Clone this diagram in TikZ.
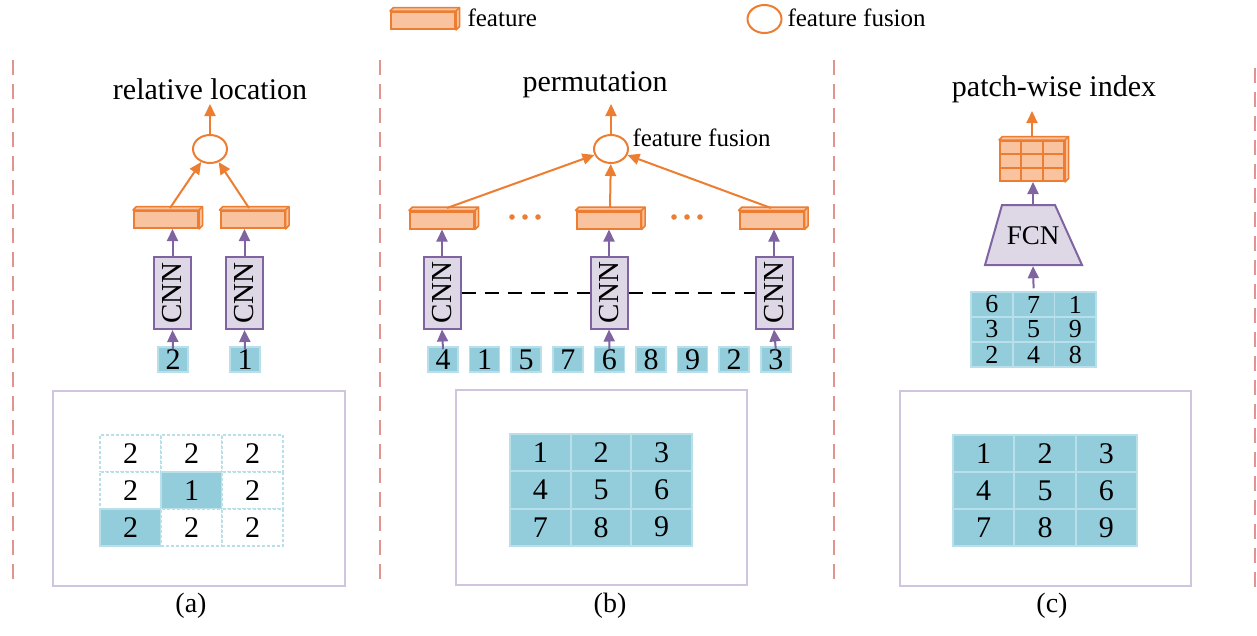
\documentclass[tikz,border=0pt]{standalone}
\usepackage{fontspec}
\usepackage{graphicx}
\setmainfont{Liberation Serif}
\usetikzlibrary{arrows.meta,shapes.geometric,calc}
\definecolor{org}{HTML}{ED7D31}
\definecolor{orgfill}{HTML}{F8C39E}
\definecolor{pur}{HTML}{8064A2}
\definecolor{purfill}{HTML}{DDD7E6}
\definecolor{tealA}{HTML}{93CDDB}
\definecolor{tealB}{HTML}{B9E0EA}
\definecolor{framec}{HTML}{CFC5DE}
\definecolor{sepc}{HTML}{E0938F}
\newcommand\dfont{\fontsize{30}{30}\selectfont}
\newcommand\featdepth[1]{%
  \draw[draw=org, fill=orgfill, line width=1.5pt, line join=round]
    (#1.north west) -- ([shift={(3.5pt,3.5pt)}]#1.north west) -- ([shift={(3.5pt,3.5pt)}]#1.north east)
    -- ([shift={(3.5pt,3.5pt)}]#1.south east) -- (#1.south east) -- (#1.north east) -- cycle;
  \draw[draw=org, line width=1.5pt] (#1.north east) -- ([shift={(3.5pt,3.5pt)}]#1.north east);}
\tikzset{
  sepline/.style={draw=sepc, line width=2.2pt, dash pattern=on 15pt off 9pt},
  featbox/.style={draw=org, fill=orgfill, line width=2pt, minimum width=64pt, minimum height=17pt, inner sep=0pt},
  fusion/.style={draw=org, fill=white, line width=2pt, ellipse, minimum width=34pt, minimum height=28pt, inner sep=0pt},
  oarr/.style={draw=org, line width=2pt, -{Triangle[length=12pt,width=11pt]}},
  parr/.style={draw=pur, line width=2pt, -{Triangle[length=12pt,width=11pt]}},
  cnnbox/.style={draw=pur, fill=purfill, line width=2pt, minimum width=37pt, minimum height=72pt, inner sep=0pt, font=\fontsize{29}{29}\selectfont},
  patch/.style={fill=tealA, draw=tealB, line width=1.5pt, minimum width=30pt, minimum height=25pt, inner sep=0pt, font=\dfont},
  cell/.style={fill=tealA, draw=tealB, line width=2pt, minimum width=61pt, minimum height=37pt, inner sep=0pt, font=\dfont},
  dcell/.style={fill=white, draw=tealB, dash pattern=on 3pt off 2pt, line width=1.5pt, minimum width=61pt, minimum height=37pt, inner sep=0pt, font=\dfont},
  icell/.style={fill=tealA, draw=tealB, line width=1.5pt, minimum width=41.7pt, minimum height=25pt, inner sep=0pt, font=\fontsize{26}{26}\selectfont},
  framebox/.style={draw=framec, line width=2pt},
  titlefont/.style={font=\fontsize{30}{30}\selectfont},
  legendfont/.style={font=\fontsize{25}{25}\selectfont},
  caption/.style={font=\fontsize{28}{28}\selectfont},
}
\begin{document}
\begin{tikzpicture}[x=1pt,y=-1pt]
\useasboundingbox (0,0) rectangle (1257,635);

% separators
\coordinate (s1a) at (13,60);  \coordinate (s1b) at (13,586);
\coordinate (s2a) at (380,60); \coordinate (s2b) at (380,586);
\coordinate (s3a) at (834,60); \coordinate (s3b) at (834,586);
\coordinate (s4a) at (1255,68); \coordinate (s4b) at (1255,592);
\draw[sepline] (s1a) -- (s1b);
\draw[sepline] (s2a) -- (s2b);
\draw[sepline] (s3a) -- (s3b);
\draw[sepline] (s4a) -- (s4b);

% legend
\node[featbox] (legf) at (423,20.5) {};
\featdepth{legf}
\node[legendfont, anchor=west] (legft) at (464,18) {feature};
\node[fusion] (lege) at (764.5,19) {};
\node[legendfont, anchor=west] (leget) at (784,18) {feature fusion};

% ---------------- panel (a)
\node[titlefont] (ta) at (210,89) {relative location};
\node[fusion] (eA) at (210,149) {};
\coordinate (eAtop) at (210,104);
\draw[oarr] (eA.north) -- (eAtop);
\node[featbox] (fA1) at (166,219.5) {};
\featdepth{fA1}
\node[featbox] (fA2) at (252.5,219.5) {};
\featdepth{fA2}
\draw[oarr] (170,208) -- (eA);
\draw[oarr] (249,208) -- (eA);
\node[cnnbox] (cA1) at (172.5,293) {\rotatebox{90}{CNN}};
\node[cnnbox] (cA2) at (244.5,293) {\rotatebox{90}{CNN}};
\node[patch] (pA1) at (173,359.5) {2};
\node[patch] (pA2) at (245,359.5) {1};
\draw[parr] (cA1.north) -- (cA1.north |- fA1.south);
\draw[parr] (cA2.north) -- (cA2.north |- fA2.south);
\draw[parr] ([yshift=-3pt]pA1.north) -- (cA1.south);
\draw[parr] ([yshift=-3pt]pA2.north) -- (cA2.south);

\draw[framebox] (53,391) rectangle (345,586);
\foreach \r in {0,1,2} \foreach \c in {0,1,2} {
  \pgfmathtruncatemacro\isf{(\r==1 && \c==1) || (\r==2 && \c==0) ? 1 : 0}
  \pgfmathtruncatemacro\lab{(\r==1 && \c==1) ? 1 : 2}
  \ifnum\isf=1
    \node[cell] (gA-\r-\c) at ({130.5+61*\c},{453.5+37*\r}) {\lab};
  \else
    \node[dcell] (gA-\r-\c) at ({130.5+61*\c},{453.5+37*\r}) {\lab};
  \fi
}
\node[caption] (capA) at (191,606) {(a)};

% ---------------- panel (b)
\node[titlefont] (tb) at (595,85) {permutation};
\node[fusion] (eB) at (611,149) {};
\coordinate (eBtop) at (611,104);
\draw[oarr] (eB.north) -- (eBtop);
\node[legendfont, anchor=west] (eBt) at (629,138) {feature fusion};
\node[featbox] (fB1) at (442,220) {};
\featdepth{fB1}
\node[featbox] (fB2) at (608.5,220) {};
\featdepth{fB2}
\node[featbox] (fB3) at (771.5,220) {};
\featdepth{fB3}
\foreach \x in {512,525,538,674,687,700} \fill[org] (\x,217) circle (2.8pt);
\draw[oarr] (447,208) -- (eB);
\draw[oarr] (610,208) -- (eB);
\draw[oarr] (771,208) -- (eB);
\foreach \i/\l in {0/4,1/1,2/5,3/7,4/6,5/8,6/9,7/2,8/3}
  \node[patch] (pB\i) at ({443+41.6*\i},359.5) {\l};
\node[cnnbox] (cB1) at (442,292.5) {\rotatebox{90}{CNN}};
\node[cnnbox] (cB2) at (609,292.5) {\rotatebox{90}{CNN}};
\node[cnnbox] (cB3) at (774,292.5) {\rotatebox{90}{CNN}};
\draw[black, line width=2pt, dash pattern=on 14pt off 9pt] (cB1.east) -- (cB2.west);
\draw[black, line width=2pt, dash pattern=on 14pt off 9pt] (cB2.east) -- (cB3.west);
\draw[parr] (cB1.north) -- (cB1.north |- fB1.south);
\draw[parr] (cB2.north) -- (cB2.north |- fB2.south);
\draw[parr] (cB3.north) -- (cB3.north |- fB3.south);
\draw[parr] ([yshift=-3pt]pB0.north) -- (cB1.south);
\draw[parr] ([yshift=-3pt]pB4.north) -- (cB2.south);
\draw[parr] ([yshift=-3pt]pB8.north) -- (cB3.south);

\draw[framebox] (456,390) rectangle (747,585);
\foreach \r in {0,1,2} \foreach \c in {0,1,2} {
  \pgfmathtruncatemacro\lab{3*\r+\c+1}
  \node[cell, minimum width=60.7pt, minimum height=37.3pt] (gB-\r-\c) at ({540.3+60.7*\c},{452.6+37.3*\r}) {\lab};
}
\node[caption] (capB) at (610,606) {(b)};

% ---------------- panel (c)
\node[titlefont] (tc) at (1054,89) {patch-wise index};
\node[featbox, minimum height=40pt] (fC) at (1032,161) {};
\featdepth{fC}
\foreach \t in {1,2} {
  \draw[org, line width=1.8pt] ($(fC.north west)!\t/3!(fC.north east)$) -- ($(fC.south west)!\t/3!(fC.south east)$);
  \draw[org, line width=1.8pt] ($(fC.north west)!\t/3!(fC.south west)$) -- ($(fC.north east)!\t/3!(fC.south east)$);
}
\coordinate (fCtop) at (1032,111);
\draw[oarr] ([yshift=3pt]fC.north) -- (fCtop);
\draw[draw=pur, fill=purfill, line width=2pt] (1002,205) -- (1055,205) -- (1082,265) -- (985,265) -- cycle;
\node[font=\fontsize{27}{27}\selectfont, minimum width=53pt, minimum height=60pt, inner sep=0pt] (fcn) at (1033,236) {FCN};
\draw[parr] (fcn.north) -- (fcn.north |- fC.south);
\foreach \r/\a/\b/\cc in {0/6/7/1,1/3/5/9,2/2/4/8} {
  \node[icell] (iC-\r-0) at ({991.9},{304.5+25*\r}) {\a};
  \node[icell] (iC-\r-1) at ({1033.6},{304.5+25*\r}) {\b};
  \node[icell] (iC-\r-2) at ({1075.3},{304.5+25*\r}) {\cc};
}
\draw[parr] ([yshift=3pt]iC-0-1.north) -- (fcn.south);

\draw[framebox] (900,391) rectangle (1191,586);
\foreach \r in {0,1,2} \foreach \c in {0,1,2} {
  \pgfmathtruncatemacro\lab{3*\r+\c+1}
  \node[cell, minimum width=61.3pt] (gC-\r-\c) at ({983.7+61.3*\c},{453.5+37*\r}) {\lab};
}
\node[caption] (capC) at (1052,606) {(c)};
\end{tikzpicture}
\end{document}
